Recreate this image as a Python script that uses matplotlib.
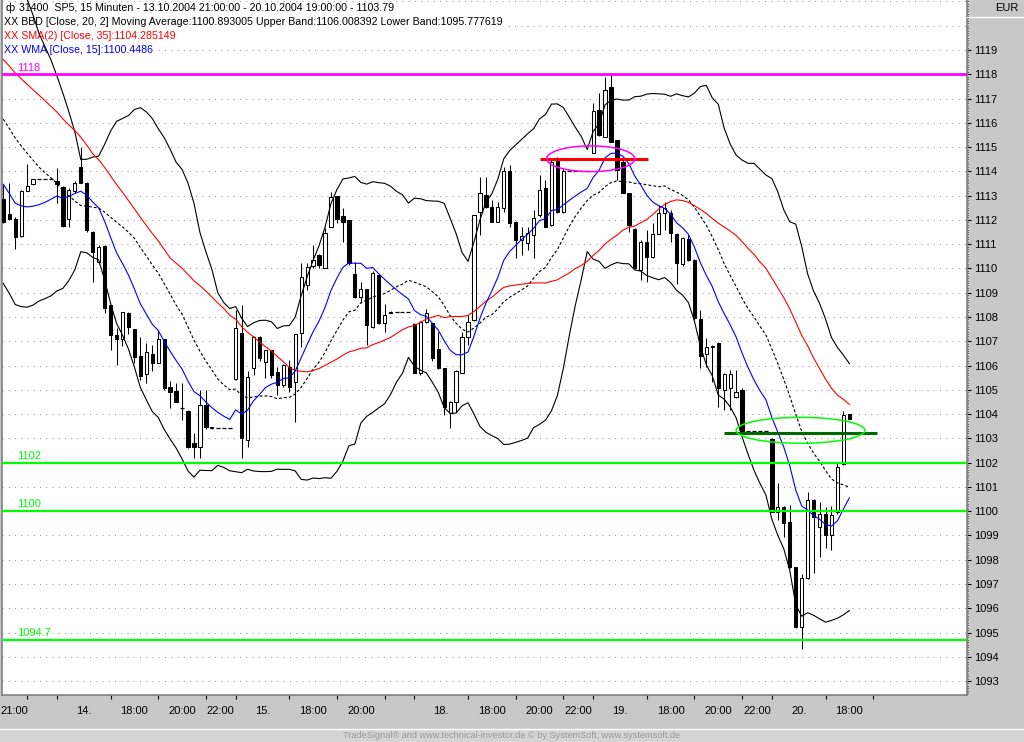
import numpy as np
import pandas as pd
import matplotlib
matplotlib.use("Agg")
import matplotlib.pyplot as plt
from matplotlib.patches import Ellipse, Rectangle
from matplotlib.lines import Line2D
from matplotlib.ticker import FixedLocator, MultipleLocator, NullFormatter

plt.rcParams['font.family'] = ['Liberation Sans', 'DejaVu Sans']

# ---------------- data ----------------
# closes before the first visible bar, estimated from where the indicator lines start
prior_closes = [1121.2, 1121.6, 1121.4, 1121.3, 1121.5,
                1121.8, 1121.5, 1121.9, 1121.6, 1121.7, 1121.8, 1121.6,
                1123.2, 1122.9, 1123.1,
                1119.6, 1119.3, 1119.7, 1119.4, 1119.5, 1119.5,
                1118.2, 1117.9, 1118.1, 1117.8,
                1117.6, 1117.4, 1117.5,
                1111.9, 1111.7, 1111.5, 1111.8, 1111.4, 1111.3]

opens = [1112.85, 1112.24, 1112.04, 1111.34, 1113.20, 1113.47, 1113.69, 1113.69, 1113.69, 1113.60,
         1113.37, 1112.05, 1113.20, 1114.17, 1113.53, 1111.51, 1110.28, 1110.94, 1108.49, 1107.26,
         1107.09, 1108.15, 1107.49, 1106.39, 1105.65, 1106.48, 1106.12, 1107.08, 1105.13, 1104.96,
         1104.24, 1104.13, 1102.80, 1102.66, 1104.37, 1103.48, 1103.42, 1103.42, 1103.42, 1105.43,
         1107.35, 1102.93, 1105.89, 1107.19, 1106.16, 1106.64, 1105.75, 1105.20, 1105.95, 1105.33,
         1107.35, 1109.32, 1110.10, 1110.55, 1110.01, 1111.72, 1112.98, 1112.16, 1112.00, 1109.77,
         1108.84, 1109.14, 1107.60, 1109.73, 1107.74, 1108.15, 1108.22, 1108.22, 1108.22, 1107.71,
         1105.68, 1107.81, 1107.74, 1106.67, 1105.89, 1104.03, 1104.51, 1105.71, 1107.19, 1107.88,
         1112.34, 1113.03, 1112.54, 1111.93, 1112.48, 1114.03, 1111.93, 1111.17, 1111.04, 1111.38,
         1112.20, 1113.30, 1111.79, 1114.50, 1112.34, 1114.00, 1114.00, 1114.00, 1114.00, 1114.77,
         1116.53, 1115.43, 1117.49, 1115.29, 1114.40, 1113.10, 1111.61, 1109.94, 1111.10, 1110.48,
         1111.42, 1112.27, 1112.27, 1111.42, 1110.18, 1111.20, 1110.35, 1107.90, 1106.48, 1106.76,
         1106.94, 1104.99, 1105.06, 1104.72, 1104.99, 1103.30, 1103.30, 1103.30, 1103.30, 1102.96,
         1099.98, 1100.18, 1099.57, 1097.69, 1095.24, 1097.23, 1100.46, 1099.34, 1099.88, 1099.02,
         1099.98, 1101.94, 1103.99]

highs = [1113.44, 1113.51, 1112.10, 1113.25, 1114.30, 1113.70, 1113.69, 1113.69, 1113.69, 1114.13,
         1113.40, 1113.30, 1113.60, 1115.02, 1113.55, 1111.55, 1110.95, 1110.95, 1108.50, 1107.53,
         1108.20, 1108.21, 1107.50, 1107.19, 1106.92, 1106.85, 1107.46, 1107.10, 1105.36, 1105.26,
         1105.27, 1104.15, 1103.21, 1104.99, 1105.00, 1103.48, 1103.42, 1103.42, 1103.42, 1108.29,
         1108.49, 1105.76, 1107.20, 1107.20, 1106.65, 1106.65, 1105.95, 1106.05, 1106.23, 1107.30,
         1110.21, 1110.21, 1110.97, 1110.60, 1111.65, 1113.16, 1113.00, 1112.48, 1112.00, 1110.28,
         1109.46, 1109.15, 1109.88, 1109.75, 1108.54, 1108.26, 1108.22, 1108.22, 1108.22, 1107.75,
         1107.85, 1108.32, 1107.75, 1107.39, 1105.90, 1104.55, 1105.80, 1107.39, 1108.08, 1112.20,
         1113.78, 1113.78, 1112.82, 1112.75, 1114.19, 1114.26, 1111.95, 1111.72, 1111.72, 1112.41,
         1113.85, 1113.64, 1114.45, 1114.60, 1114.08, 1114.00, 1114.00, 1114.00, 1114.00, 1116.80,
         1117.24, 1117.90, 1117.97, 1115.30, 1114.54, 1113.10, 1111.65, 1111.17, 1111.58, 1111.86,
         1112.61, 1112.75, 1112.41, 1111.45, 1111.30, 1111.38, 1110.40, 1108.29, 1107.12, 1106.85,
         1106.95, 1105.71, 1105.82, 1105.82, 1105.06, 1103.30, 1103.30, 1103.30, 1103.30, 1103.00,
         1101.15, 1100.20, 1100.25, 1097.70, 1097.40, 1100.80, 1100.50, 1100.39, 1100.18, 1100.21,
         1102.04, 1104.14, 1104.00]

lows = [1111.88, 1112.02, 1110.79, 1111.30, 1113.20, 1113.45, 1113.69, 1113.69, 1113.69, 1112.68,
        1111.70, 1111.71, 1113.10, 1113.50, 1111.50, 1109.46, 1110.20, 1108.18, 1106.64, 1106.02,
        1106.80, 1107.30, 1106.10, 1105.40, 1105.27, 1105.79, 1106.10, 1105.00, 1104.24, 1104.50,
        1103.76, 1102.60, 1102.18, 1102.18, 1103.40, 1103.40, 1103.42, 1103.42, 1103.42, 1105.40,
        1102.18, 1102.66, 1105.60, 1106.20, 1105.49, 1105.50, 1104.79, 1105.10, 1104.92, 1103.69,
        1106.78, 1109.11, 1110.00, 1110.00, 1110.00, 1111.70, 1111.86, 1111.10, 1110.15, 1108.77,
        1108.56, 1106.85, 1107.55, 1107.70, 1107.39, 1108.15, 1108.22, 1108.22, 1108.22, 1105.70,
        1105.60, 1107.76, 1106.20, 1105.85, 1103.96, 1103.41, 1104.10, 1105.70, 1106.85, 1107.85,
        1111.38, 1112.48, 1111.90, 1111.90, 1112.34, 1111.72, 1110.42, 1110.55, 1110.76, 1110.42,
        1112.13, 1111.70, 1111.75, 1112.30, 1112.27, 1114.00, 1114.00, 1114.00, 1114.00, 1114.75,
        1115.45, 1115.40, 1115.20, 1113.64, 1113.10, 1111.51, 1109.98, 1109.52, 1109.46, 1110.45,
        1111.40, 1111.58, 1111.10, 1109.36, 1110.10, 1110.30, 1107.88, 1105.89, 1105.95, 1105.33,
        1104.30, 1104.17, 1104.17, 1104.65, 1103.21, 1103.30, 1103.30, 1103.30, 1103.30, 1099.95,
        1099.64, 1098.92, 1097.65, 1095.17, 1094.31, 1097.20, 1097.44, 1098.12, 1098.47, 1098.40,
        1099.90, 1101.90, 1103.79]

closes = [1111.93, 1112.05, 1111.31, 1113.20, 1113.40, 1113.69, 1113.69, 1113.69, 1113.69, 1113.49,
          1111.76, 1113.23, 1113.51, 1113.53, 1111.58, 1110.69, 1110.90, 1108.36, 1107.26, 1107.09,
          1108.19, 1107.57, 1106.36, 1105.57, 1106.57, 1106.12, 1107.08, 1105.06, 1104.90, 1104.51,
          1104.24, 1102.66, 1102.66, 1104.37, 1103.48, 1103.42, 1103.42, 1103.42, 1103.42, 1107.53,
          1103.00, 1105.54, 1107.19, 1106.30, 1106.64, 1105.61, 1105.20, 1106.02, 1105.13, 1107.30,
          1109.66, 1110.05, 1110.35, 1110.14, 1111.47, 1112.96, 1112.02, 1111.93, 1110.21, 1108.84,
          1109.14, 1107.67, 1109.80, 1107.77, 1108.08, 1108.22, 1108.22, 1108.22, 1108.22, 1105.71,
          1107.81, 1108.18, 1106.30, 1105.89, 1104.30, 1104.48, 1105.77, 1107.16, 1107.81, 1112.20,
          1113.10, 1112.54, 1111.93, 1112.54, 1114.03, 1111.86, 1111.17, 1111.35, 1111.47, 1112.07,
          1113.23, 1111.72, 1114.40, 1112.34, 1114.00, 1114.00, 1114.00, 1114.00, 1114.00, 1116.50,
          1115.50, 1117.35, 1115.22, 1114.06, 1113.12, 1111.79, 1110.01, 1111.10, 1110.48, 1111.42,
          1112.27, 1112.48, 1111.47, 1110.21, 1111.24, 1110.35, 1107.95, 1106.39, 1106.78, 1106.80,
          1105.06, 1105.65, 1105.65, 1104.92, 1103.27, 1103.30, 1103.30, 1103.30, 1103.30, 1099.98,
          1100.16, 1099.53, 1097.69, 1095.24, 1097.23, 1100.46, 1099.77, 1099.88, 1099.02, 1099.84,
          1101.83, 1103.96, 1103.79]

# x-axis: bar index of the session/time tick marks and the labels between them
tick_bars = [4, 9, 18, 26, 34, 39, 48, 56, 64, 69, 78, 86, 94, 99, 108, 116, 124, 129, 138, 146]
time_labels = ['21:00', '', '14.', '18:00', '20:00', '22:00', '15.', '18:00', '20:00', '',
               '18.', '18:00', '20:00', '22:00', '19.', '18:00', '20:00', '22:00', '20.', '18:00']

price_labels = list(range(1093, 1120))
grid_levels = list(range(1093, 1122))

# drawn horizontal levels
level_values = [1118.0, 1102.0, 1100.0, 1094.7]
level_texts = ['1118', '1102', '1100', '1094.7']
level_colors = ['#ff00ff', '#00ff00', '#00ff00', '#00ff00']

# hand-drawn marks: short lines (start bar, end bar, price) and ellipses (centre bar, price, w, h)
red_mark = (90.1, 108.2, 1114.5)
green_mark = (121.0, 146.6, 1103.22)
magenta_ellipse = (98.6, 1114.52, 14.8, 1.06)
green_ellipse = (133.8, 1103.33, 21.6, 1.07)

header_lines = [
    "31400  SP5, 15 Minuten - 13.10.2004 21:00:00 - 20.10.2004 19:00:00 - 1103.79",
    "XX BBD [Close, 20, 2] Moving Average:1100.893005 Upper Band:1106.008392 Lower Band:1095.777619",
    "XX SMA(2) [Close, 35]:1104.285149",
    "XX WMA [Close, 15]:1100.4486",
]
header_colors = ['black', 'black', '#ff0000', '#0000ff']

# ---------------- indicators ----------------
n0 = len(prior_closes)
allc = pd.Series(prior_closes + closes, dtype=float)
sma35 = allc.rolling(35).mean().to_numpy()[n0:]
bb_mid = allc.rolling(20).mean().to_numpy()[n0:]
bb_sd = allc.rolling(20).std(ddof=0).to_numpy()[n0:]
bb_up = bb_mid + 2 * bb_sd
bb_lo = bb_mid - 2 * bb_sd
w = np.arange(1, 16, dtype=float)
wma15 = allc.rolling(15).apply(lambda v: np.dot(v, w) / w.sum(), raw=True).to_numpy()[n0:]

# ---------------- figure ----------------
W, H = 1024, 742
fig = plt.figure(figsize=(W / 100, H / 100), dpi=100, facecolor='#c8c8c8')
ax = fig.add_axes([2 / W, 47 / H, 965 / W, 695 / H])
ax.set_facecolor('white')

n = len(closes)
x = np.arange(n)
o = np.array(opens); h = np.array(highs); l = np.array(lows); c = np.array(closes)

xmin, xmax = -0.22, 161.75
ax.set_xlim(xmin, xmax)
ax.set_ylim(1092.426, 1121.06)

# grid
ax.hlines(grid_levels, xmin, xmax, colors='#9a9a9a', linewidth=0.75,
          linestyles=[(0, (1, 5))], zorder=1)

# header texts
ys = [8, 22, 36, 50]
for txt, col, yp in zip(header_lines, header_colors, ys):
    xp = 19 if txt.startswith('31400') else 4
    ax.text((xp - 2) / 965, 1 - yp / 695, txt, transform=ax.transAxes, color=col,
            fontsize=7.7, va='center', ha='left', zorder=2,
            bbox=dict(facecolor='white', edgecolor='none', pad=0.4))
ax.text((5 - 2) / 965, 1 - 8 / 695, 'ф', transform=ax.transAxes, color='black',
        fontsize=8, va='center', ha='left', zorder=2)

# candles
ax.vlines(x, l, h, color='black', linewidth=0.75, zorder=3)
body = np.abs(c - o)
flat = body < 0.02
bottom = np.minimum(o, c)
face = np.where(c >= o, 'white', 'black')
bw = 0.55
ax.bar(x[~flat], body[~flat], bottom=bottom[~flat], width=bw, color=face[~flat],
       edgecolor='black', linewidth=0.75, zorder=3.2)
ax.hlines(c[flat], x[flat] - bw / 2 - 0.06, x[flat] + bw / 2 + 0.06, color='black',
          linewidth=0.9, zorder=3.2)

# indicators
ax.plot(x, bb_up, color='black', linewidth=0.8, zorder=4)
ax.plot(x, bb_lo, color='black', linewidth=0.8, zorder=4)
ax.plot(x, bb_mid, color='black', linewidth=0.8, linestyle=(0, (2.6, 1.9)), zorder=4)
ax.plot(x, sma35, color='#ff0000', linewidth=0.8, zorder=4)
ax.plot(x, wma15, color='#0000ff', linewidth=0.8, zorder=4)

# levels
for val, txt, col in zip(level_values, level_texts, level_colors):
    lw = 2.0 if col == '#ff00ff' else 1.6
    ax.axhline(val, color=col, linewidth=lw, zorder=5)
    ax.annotate(txt, xy=(15 / 965, val), xycoords=('axes fraction', 'data'),
                xytext=(0, 1.2), textcoords='offset points', color=col, fontsize=8,
                ha='left', va='bottom', zorder=5)

ax.hlines(red_mark[2], red_mark[0], red_mark[1], color='#ff0000', linewidth=2.2, zorder=5)
ax.hlines(green_mark[2], green_mark[0], green_mark[1], color='#006a00', linewidth=2.2, zorder=5)
for (cx, cy, ew, eh), col in [(magenta_ellipse, '#ff00ff'), (green_ellipse, '#00ff00')]:
    ax.add_patch(Ellipse((cx, cy), ew, eh, fill=False, edgecolor=col, linewidth=1.1, zorder=5))

# axes styling
ax.spines['top'].set_visible(False)
for s in ['left', 'right', 'bottom']:
    ax.spines[s].set_color('#808080')
    ax.spines[s].set_linewidth(1.2)

bounds = [xmin] + tick_bars
mids = [(bounds[k] + bounds[k + 1]) / 2 for k in range(len(time_labels))]
ax.xaxis.set_major_locator(FixedLocator(tick_bars))
ax.xaxis.set_major_formatter(NullFormatter())
ax.xaxis.set_minor_locator(FixedLocator(mids))
ax.set_xticklabels(time_labels, minor=True)
ax.tick_params(axis='x', which='major', direction='out', length=3, width=0.8, color='black')
ax.tick_params(axis='x', which='minor', length=0, pad=8, labelsize=8, labelcolor='black')

ax.yaxis.tick_right()
ax.yaxis.set_major_locator(FixedLocator(price_labels))
ax.set_yticklabels([str(p) for p in price_labels])
ax.yaxis.set_minor_locator(MultipleLocator(0.1))
ax.tick_params(axis='y', which='major', direction='out', length=3, width=0.8, color='black',
               pad=2, labelsize=8)
ax.tick_params(axis='y', which='minor', direction='out', length=0.9, width=0.7, color='black')

# right header box
fig.text(1019 / W, 1 - 8 / H, 'EUR', ha='right', va='center', fontsize=8, color='black')
fig.add_artist(Line2D([967 / W, 1], [1 - 16.5 / H] * 2, color='white', linewidth=1.0))

# footer
fig.add_artist(Rectangle((0, 0), 1, 13 / H, transform=fig.transFigure, facecolor='#d4d4d4',
                         edgecolor='none'))
fig.add_artist(Line2D([0, 1], [13.5 / H] * 2, color='white', linewidth=1.0))
fig.text(0.5, 6.5 / H, 'TradeSignal® and www.technical-investor.de © by SystemSoft, www.systemsoft.de',
         ha='center', va='center', fontsize=6.6, color='#9a9a9a')

fig.savefig('out.png', dpi=100, facecolor=fig.get_facecolor())
